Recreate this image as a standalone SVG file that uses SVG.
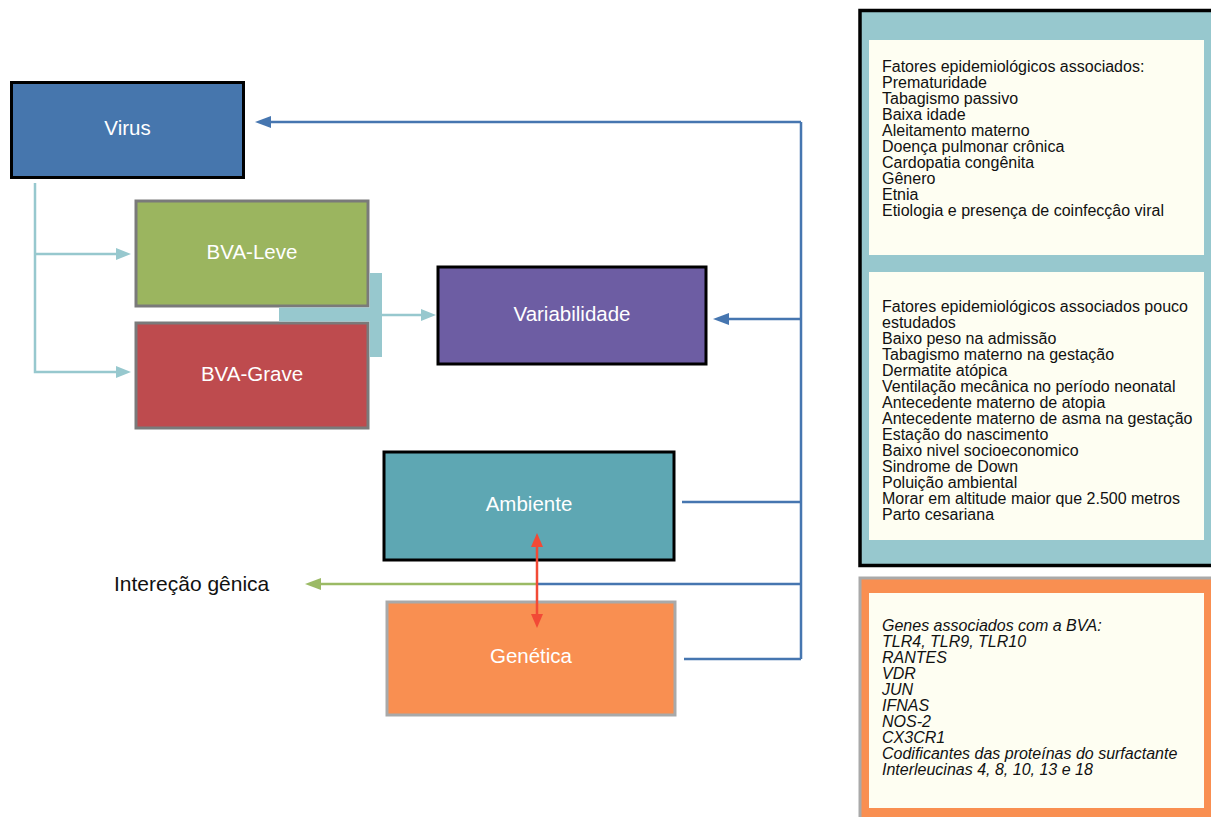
<svg xmlns="http://www.w3.org/2000/svg" width="1211" height="817" viewBox="0 0 1211 817">
<style>
.lbl{font-family:"Liberation Sans",Arial,sans-serif;font-size:20.5px;fill:#ffffff;text-anchor:middle}
.txt{font-family:"Liberation Sans",Arial,sans-serif;font-size:16px;fill:#111111}
.it{font-style:italic}
.blue{fill:none;stroke:#4676B0;stroke-width:2.5}
.teal{fill:none;stroke:#97C8CE;stroke-width:2.5}
.green{fill:none;stroke:#9BBA65;stroke-width:2.5}
.red{fill:none;stroke:#F24A36;stroke-width:2.5}
</style>
<defs>
<marker id="mb" viewBox="0 0 16 12" refX="0" refY="6" markerWidth="16" markerHeight="12" markerUnits="userSpaceOnUse" orient="auto"><path d="M0,0 L16,6 L0,12 z" fill="#4676B0"/></marker>
<marker id="mt" viewBox="0 0 15 12" refX="0" refY="6" markerWidth="15" markerHeight="12" markerUnits="userSpaceOnUse" orient="auto"><path d="M0,0 L15,6 L0,12 z" fill="#97C8CE"/></marker>
<marker id="mg" viewBox="0 0 16 12" refX="0" refY="6" markerWidth="16" markerHeight="12" markerUnits="userSpaceOnUse" orient="auto"><path d="M0,0 L16,6 L0,12 z" fill="#9BBA65"/></marker>
<marker id="mr" viewBox="0 0 14 12" refX="0" refY="6" markerWidth="14" markerHeight="12" markerUnits="userSpaceOnUse" orient="auto"><path d="M0,0 L14,6 L0,12 z" fill="#F24A36"/></marker>
</defs>
<rect width="1211" height="817" fill="#ffffff"/>

<g id="virus">
<rect x="11.5" y="82.5" width="232" height="95" fill="#4676AD" stroke="#000" stroke-width="3"/>
<text class="lbl" x="127.5" y="135">Virus</text>
</g>
<g id="bva-leve">
<rect x="136" y="201" width="232" height="105" fill="#9BB55F" stroke="#7A7A7A" stroke-width="3"/>
<text class="lbl" x="252" y="259">BVA-Leve</text>
</g>
<g id="bva-grave">
<rect x="136" y="323" width="232" height="105" fill="#BE4B4E" stroke="#7A7A7A" stroke-width="3"/>
<text class="lbl" x="252" y="381">BVA-Grave</text>
</g>
<g id="variabilidade">
<rect x="438" y="267" width="268" height="97" fill="#6D5DA3" stroke="#000" stroke-width="3"/>
<text class="lbl" x="572" y="321">Variabilidade</text>
</g>
<g id="ambiente">
<rect x="384" y="452" width="290" height="108" fill="#5EA7B3" stroke="#000" stroke-width="3"/>
<text class="lbl" x="529" y="511">Ambiente</text>
</g>
<g id="genetica">
<rect x="387" y="602" width="288" height="113" fill="#F98F51" stroke="#A9A9A9" stroke-width="3"/>
<text class="lbl" x="531" y="663">Genética</text>
</g>
<g id="interacao">
<text x="114" y="591" font-family="Liberation Sans, Arial, sans-serif" font-size="21" fill="#111">Intereção gênica</text>
</g>

<g id="connectors">
<path class="teal" d="M35,183 V372 H116" marker-end="url(#mt)"/>
<path class="teal" d="M35,254 H116" marker-end="url(#mt)"/>
<path d="M279,307.5 H369.5 V273 H382 V357 H369.5 V321.5 H279 Z" fill="#97C8CE"/>
<path class="teal" d="M382,315 H421" marker-end="url(#mt)"/>
<path class="blue" d="M801,122 V659"/>
<path class="blue" d="M801,122 H271" marker-end="url(#mb)"/>
<path class="blue" d="M801,319 H729" marker-end="url(#mb)"/>
<path class="blue" d="M682,502 H801"/>
<path class="blue" d="M537,584 H801"/>
<path class="blue" d="M684,659 H801"/>
<path class="green" d="M537,584 H321" marker-end="url(#mg)"/>
<path class="red" d="M537,584 V547" marker-end="url(#mr)"/>
<path class="red" d="M537,584 V614" marker-end="url(#mr)"/>
</g>

<g id="panel-fatores">
<rect x="860" y="10.5" width="360" height="555" fill="#97C8CE" stroke="#000" stroke-width="3.5"/>
<rect x="869" y="40" width="335" height="215" fill="#FEFEF2"/>
<rect x="869" y="272" width="335" height="268" fill="#FEFEF2"/>
<text class="txt">
<tspan x="882" y="72">Fatores epidemiológicos associados:</tspan>
<tspan x="882" y="88">Prematuridade</tspan>
<tspan x="882" y="104">Tabagismo passivo</tspan>
<tspan x="882" y="120">Baixa idade</tspan>
<tspan x="882" y="136">Aleitamento materno</tspan>
<tspan x="882" y="152">Doença pulmonar crônica</tspan>
<tspan x="882" y="168">Cardopatia congênita</tspan>
<tspan x="882" y="184">Gênero</tspan>
<tspan x="882" y="200">Etnia</tspan>
<tspan x="882" y="216">Etiologia e presença de coinfecçâo viral</tspan>
</text>
<text class="txt">
<tspan x="882" y="312">Fatores epidemiológicos associados pouco</tspan>
<tspan x="882" y="328">estudados</tspan>
<tspan x="882" y="344">Baixo peso na admissão</tspan>
<tspan x="882" y="360">Tabagismo materno na gestação</tspan>
<tspan x="882" y="376">Dermatite atópica</tspan>
<tspan x="882" y="392">Ventilação mecânica no período neonatal</tspan>
<tspan x="882" y="408">Antecedente materno de atopia</tspan>
<tspan x="882" y="424">Antecedente materno de asma na gestação</tspan>
<tspan x="882" y="440">Estação do nascimento</tspan>
<tspan x="882" y="456">Baixo nivel socioeconomico</tspan>
<tspan x="882" y="472">Sindrome de Down</tspan>
<tspan x="882" y="488">Poluição ambiental</tspan>
<tspan x="882" y="504">Morar em altitude maior que 2.500 metros</tspan>
<tspan x="882" y="520">Parto cesariana</tspan>
</text>
</g>

<g id="panel-genes">
<rect x="860" y="578" width="360" height="250" fill="#F98F51" stroke="#A9A9A9" stroke-width="3"/>
<rect x="869" y="593" width="335" height="215" fill="#FEFEF2"/>
<text class="txt it">
<tspan x="882" y="631">Genes associados com a BVA:</tspan>
<tspan x="882" y="647">TLR4, TLR9, TLR10</tspan>
<tspan x="882" y="663">RANTES</tspan>
<tspan x="882" y="679">VDR</tspan>
<tspan x="882" y="695">JUN</tspan>
<tspan x="882" y="711">IFNAS</tspan>
<tspan x="882" y="727">NOS-2</tspan>
<tspan x="882" y="743">CX3CR1</tspan>
<tspan x="882" y="759">Codificantes das proteínas do surfactante</tspan>
<tspan x="882" y="775">Interleucinas 4, 8, 10, 13 e 18</tspan>
</text>
</g>
</svg>
